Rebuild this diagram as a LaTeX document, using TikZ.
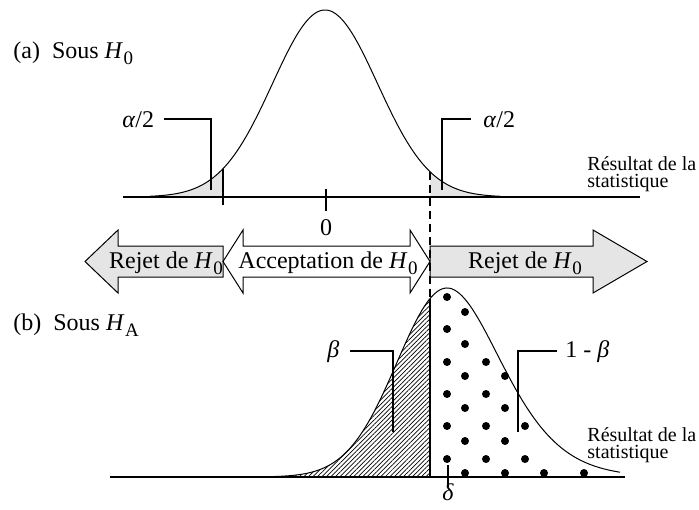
\documentclass[tikz,border=0pt]{standalone}
\usepackage{fontspec}
\setmainfont{Liberation Serif}
\usetikzlibrary{patterns.meta}
\newcommand{\hypo}[1]{\textit{H}\kern0.3pt\raisebox{-3pt}{\fontsize{9.5}{10}\selectfont #1}}

\begin{document}
\begin{tikzpicture}[
    x=0.5pt, y=-0.5pt,
    font=\fontsize{12}{14}\selectfont,
    declare function={
        za(\x)=(\x-325)/52.5;
        fa(\x)=197-187*exp(-0.5*za(\x)*za(\x));
        sb(\x)=50+0.08*max(\x-447,0);
        zb(\x)=(\x-447)/sb(\x);
        fb(\x)=477-189*exp(-0.5*zb(\x)*zb(\x));
    },
    curve/.style={line width=0.5pt},
    axis/.style={line width=0.8pt},
    leader/.style={line width=1pt},
    tickmark/.style={line width=1pt},
    bigarrow/.style={draw, line width=0.5pt, line join=miter},
    lbl/.style={inner sep=0pt},
    stattext/.style={font=\fontsize{10}{8.5}\selectfont, align=left, inner sep=0pt},
    dot/.style={fill=black}
]
\useasboundingbox (0,0) rectangle (699,509);

% ===================== (a) UNDER H0 =====================
\node[lbl, anchor=base west] (titlea) at (13,58) {(a)\ \ Sous \hypo{0}};

\fill[gray!20] plot[domain=150:223, samples=40] (\x,{fa(\x)}) -- (223,197) -- cycle;
\fill[gray!20] (430,197) -- plot[domain=430:500, samples=40] (\x,{fa(\x)}) -- cycle;
\draw[axis] (123,197) -- (640,197);
\draw[curve] plot[domain=150:500, samples=150, smooth] (\x,{fa(\x)});

\draw[tickmark] (223,{fa(223)}) -- (223,205);
\draw[tickmark] (326,189) -- (326,211);
\node[lbl, anchor=base] (zero) at (326,235) {0};

\node[lbl, anchor=base west] (alphaL) at (122,127) {\textit{α}/2};
\node[lbl, anchor=base west] (alphaR) at (483,127) {\textit{α}/2};
\coordinate (alphaLend) at (211,190);
\coordinate (alphaRend) at (442,190);
\draw[leader, shorten <=5pt] (alphaL.east) -| (alphaLend);
\draw[leader, shorten >=6pt] (alphaRend) |- (alphaR.west);

\node[stattext, anchor=north west] (resa) at (587,156) {Résultat de la\\statistique};

% ===================== DECISION ARROWS =====================
\filldraw[bigarrow, fill=gray!20] (223,246) -- (118,246) -- (118,230) -- (85,261.5)
    -- (118,293) -- (118,277) -- (223,277) -- cycle;
\draw[bigarrow, fill=white] (223,261.5) -- (243,230) -- (243,246) -- (410,246) -- (410,230)
    -- (430,261.5) -- (410,293) -- (410,277) -- (243,277) -- (243,293) -- cycle;
\filldraw[bigarrow, fill=gray!20] (430,246) -- (593,246) -- (593,230) -- (647,261.5)
    -- (593,293) -- (593,277) -- (430,277) -- cycle;

\node[lbl, anchor=base] (rejetL) at (166,268) {Rejet de \hypo{0}};
\node[lbl, anchor=base] (accept) at (328,268) {Acceptation de \hypo{0}};
\node[lbl, anchor=base] (rejetR) at (525,268) {Rejet de \hypo{0}};

\draw[line width=1pt, dash pattern=on 4pt off 2.5pt] (430,{fa(430)}) -- (430,{fb(430)});

% ===================== (b) UNDER HA =====================
\node[lbl, anchor=base west] (titleb) at (13,330) {(b)\ \ Sous \hypo{A}};

\fill[pattern={Lines[angle=45, distance=1.6pt, line width=0.35pt]}]
    plot[domain=240:430, samples=60] (\x,{fb(\x)}) -- (430,477) -- cycle;
\foreach \px/\py in {447/297, 447/329, 447/362, 447/394, 447/426, 447/459,
                     465/312, 465/344, 465/376, 465/408, 465/441, 465/473,
                     486/362, 486/394, 486/426, 486/459,
                     505/376, 505/408, 505/441, 505/473,
                     525/426, 525/459, 544/473, 584/473}
    \fill[dot] (\px,\py) circle[radius=2pt];
\draw[axis] (110,477) -- (625,477);
\draw[curve] plot[domain=240:620, samples=150, smooth] (\x,{fb(\x)});
\draw[line width=1pt] (430,{fb(430)}) -- (430,477);

\draw[tickmark] (448,465) -- (448,487);
\node[lbl, anchor=base] (delta) at (448,500) {\textit{δ}};

\node[lbl, anchor=base west] (beta) at (327,357) {\textit{β}};
\node[lbl, anchor=base west] (onembeta) at (565,357) {1 - \textit{β}};
\coordinate (betaend) at (393,432);
\coordinate (onembetaend) at (518,432);
\draw[leader, shorten <=5pt] (beta.east) -| (betaend);
\draw[leader, shorten >=4pt] (onembetaend) |- (onembeta.west);

\node[stattext, anchor=north west] (resb) at (587,427) {Résultat de la\\statistique};

\end{tikzpicture}
\end{document}
